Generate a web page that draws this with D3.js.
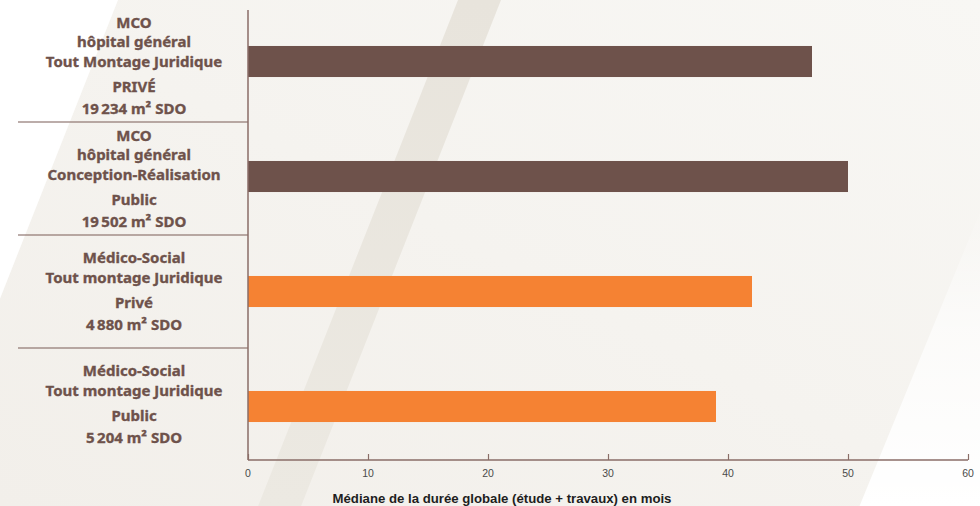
<!DOCTYPE html>
<html>
<head>
<meta charset="utf-8">
<script src="https://cdn.jsdelivr.net/npm/d3@7"></script>
<style>
    html, body { margin: 0; padding: 0; background: #ffffff; }
    svg { display: block; }
</style>
</head>
<body>
<svg id="chart" width="980" height="506"></svg>
<script>
// chart data
const sectors = ['MCO', 'MCO', 'Médico-Social', 'Médico-Social'];
const subtitles = [
    ['hôpital général', 'Tout Montage Juridique'],
    ['hôpital général', 'Conception-Réalisation'],
    ['Tout montage Juridique'],
    ['Tout montage Juridique']
];
const regimes = ['PRIVÉ', 'Public', 'Privé', 'Public'];
const surfaces = ['19\u202F234 m² SDO', '19\u202F502 m² SDO', '4\u202F880 m² SDO', '5\u202F204 m² SDO'];
const durations = [47, 50, 42, 39];
const xTicks = [0, 10, 20, 30, 40, 50, 60];
const axisTitle = 'Médiane de la durée globale (étude + travaux) en mois';

const sectorColors = {
    'MCO': '#6e524b',
    'Médico-Social': '#f58233'
};

const width = 980;
const height = 506;
const svg = d3.select('#chart');

// background
const defs = svg.append('defs');
const bgGrad = defs.append('linearGradient')
    .attr('id', 'bg-grad')
    .attr('x1', '0%').attr('y1', '100%')
    .attr('x2', '100%').attr('y2', '0%');
bgGrad.append('stop').attr('offset', '0%').attr('stop-color', '#f2efea');
bgGrad.append('stop').attr('offset', '100%').attr('stop-color', '#f8f7f4');
const bandGrad = defs.append('linearGradient')
    .attr('id', 'band-grad')
    .attr('x1', '0%').attr('y1', '0%')
    .attr('x2', '0%').attr('y2', '100%');
bandGrad.append('stop').attr('offset', '0%').attr('stop-color', '#e8e4dc');
bandGrad.append('stop').attr('offset', '100%').attr('stop-color', '#ece9e2');
const rightGrad = defs.append('linearGradient')
    .attr('id', 'right-grad')
    .attr('gradientUnits', 'userSpaceOnUse')
    .attr('x1', 0).attr('y1', 506)
    .attr('x2', 0).attr('y2', 200);
rightGrad.append('stop').attr('offset', '0%').attr('stop-color', '#ffffff').attr('stop-opacity', 1);
rightGrad.append('stop').attr('offset', '60%').attr('stop-color', '#ffffff').attr('stop-opacity', 0.6);
rightGrad.append('stop').attr('offset', '100%').attr('stop-color', '#ffffff').attr('stop-opacity', 0);

svg.append('rect')
    .attr('width', width)
    .attr('height', height)
    .attr('fill', 'url(#bg-grad)');
const slope = 0.395;
svg.append('path')
    .attr('d', `M0,0 L118,0 L0,${118 / slope} Z`)
    .attr('fill', '#ffffff');
svg.append('path')
    .attr('d', `M${1067},0 L${width},0 L${width},${height} L${1067 - 0.41 * height},${height} Z`)
    .attr('fill', 'url(#right-grad)');
svg.append('path')
    .attr('d', `M458,0 L501,0 L${501 - slope * height},${height} L${458 - slope * height},${height} Z`)
    .attr('fill', 'url(#band-grad)');

// scales
const ids = durations.map((d, i) => i);
const x = d3.scaleLinear()
    .domain([0, 60])
    .range([248, 968]);
const y = d3.scaleBand()
    .domain(ids)
    .range([4, 464])
    .paddingInner(0.73)
    .paddingOuter(0.365);
const yLabel = d3.scaleBand()
    .domain(ids)
    .range([9, 461]);

// bars
svg.append('g')
    .selectAll('rect')
    .data(ids)
    .enter()
    .append('rect')
    .attr('x', x(0))
    .attr('y', (i) => y(i))
    .attr('width', (i) => x(durations[i]) - x(0))
    .attr('height', y.bandwidth())
    .attr('fill', (i) => sectorColors[sectors[i]]);

// category separators
const axisColor = '#8a6d67';
svg.append('g')
    .selectAll('line')
    .data(ids.slice(1))
    .enter()
    .append('line')
    .attr('x1', 18)
    .attr('x2', x(0))
    .attr('y1', (i) => yLabel(i))
    .attr('y2', (i) => yLabel(i))
    .attr('stroke', '#7a5d57')
    .attr('stroke-width', 1.2);

// category labels
const labelX = 134;
ids.forEach((i) => {
    const lines = [];
    let offset = 0;
    [sectors[i]].concat(subtitles[i]).forEach((t, k) => {
        if (k > 0) offset += 19.5;
        lines.push({ text: t, dy: offset });
    });
    offset += 25;
    lines.push({ text: regimes[i], dy: offset });
    offset += 22;
    lines.push({ text: surfaces[i], dy: offset });
    const first = yLabel(i) + yLabel.bandwidth() / 2 + 5 - offset / 2;
    const text = svg.append('text')
        .attr('text-anchor', 'middle')
        .attr('font-family', '"Noto Sans", sans-serif')
        .attr('font-weight', 'bold')
        .attr('font-size', 15)
        .attr('fill', '#6e524b')
        .attr('stroke', '#6e524b')
        .attr('stroke-width', 0.35);
    lines.forEach((line) => {
        text.append('tspan')
            .attr('x', labelX)
            .attr('y', first + line.dy)
            .text(line.text);
    });
});

// axes
svg.append('line')
    .attr('x1', x(0)).attr('x2', x(0))
    .attr('y1', 10).attr('y2', 460)
    .attr('stroke', axisColor)
    .attr('stroke-width', 1.5);
const xAxis = svg.append('g')
    .attr('transform', 'translate(0,460)')
    .call(d3.axisTop(x).tickValues(xTicks).tickSize(6).tickFormat(''));
xAxis.select('.domain')
    .attr('stroke', axisColor)
    .attr('stroke-width', 1.5)
    .attr('d', `M${x(0)},0H${x(60)}`);
xAxis.selectAll('.tick line')
    .attr('stroke', axisColor)
    .attr('stroke-width', 1.2);
svg.append('g')
    .selectAll('text')
    .data(xTicks)
    .enter()
    .append('text')
    .attr('x', (d) => x(d))
    .attr('y', 477)
    .attr('text-anchor', 'middle')
    .attr('font-family', '"Liberation Sans", Arial, sans-serif')
    .attr('font-size', 10.5)
    .attr('fill', '#4a4a4a')
    .text((d) => d);

svg.append('text')
    .attr('x', 502)
    .attr('y', 503)
    .attr('text-anchor', 'middle')
    .attr('font-family', '"Liberation Sans", Arial, sans-serif')
    .attr('font-weight', 'bold')
    .attr('font-size', 13.2)
    .attr('fill', '#1e1e1e')
    .text(axisTitle);
</script>
</body>
</html>
